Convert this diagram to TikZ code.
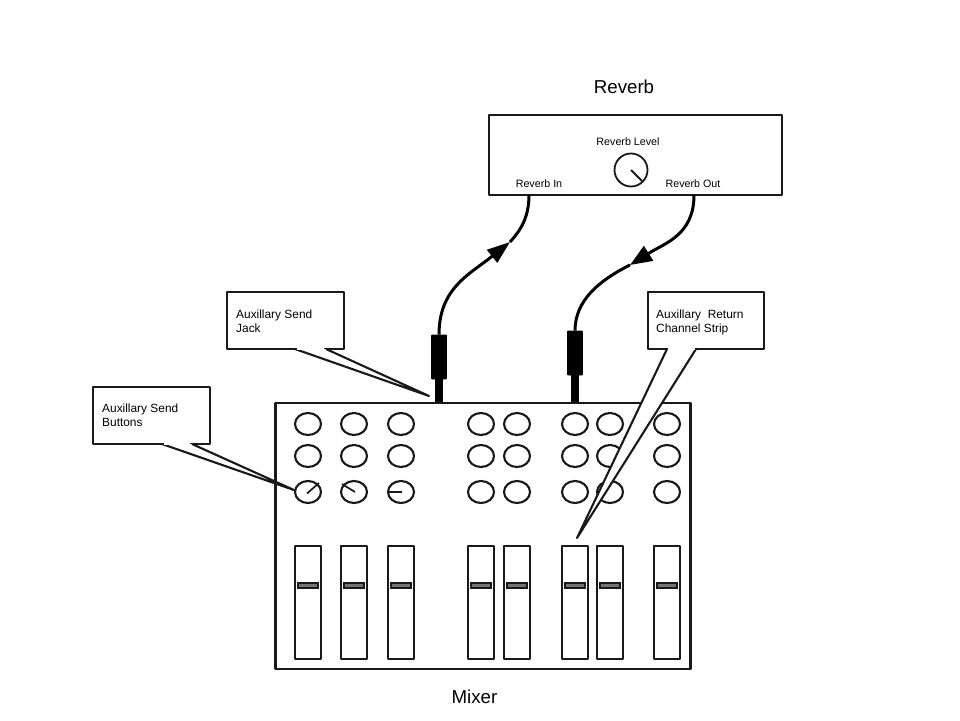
\documentclass[tikz,border=0pt]{standalone}
\usepackage{fontspec}
\setmainfont{Liberation Sans}
\usetikzlibrary{arrows.meta,shapes.geometric}
\tikzset{
  px/.style={x=1pt,y=-1pt},
  ln/.style={draw=black!90,line width=2.1pt,line join=round},
  box/.style={ln,fill=white,rectangle,minimum width=#1,inner sep=0pt},
  knob/.style={ln,fill=white,ellipse,minimum width=26pt,minimum height=22pt,inner sep=0pt},
  fader/.style={ln,fill=white,rectangle,minimum width=26pt,minimum height=113pt,inner sep=0pt},
  slider/.style={draw=black!90,line width=1.6pt,fill=black!55,rectangle,minimum width=20pt,minimum height=4.5pt,inner sep=0pt},
  plug/.style={fill=black,draw=black,line width=.8pt,rounded corners=.8pt,rectangle,minimum width=15pt,minimum height=44pt,inner sep=0pt},
  cable/.style={draw=black,line width=3pt},
  stem/.style={draw=black,line width=8pt},
  small/.style={font=\fontsize{11.9pt}{14pt}\selectfont,align=left,inner sep=0pt,anchor=north west},
  tiny/.style={font=\fontsize{10.7pt}{12pt}\selectfont,inner sep=0pt},
  big/.style={font=\fontsize{18.7pt}{20pt}\selectfont,inner sep=0pt},
  call/.style={ln,fill=white}
}
\begin{document}
\begin{tikzpicture}[px]
\useasboundingbox (0,0) rectangle (960,720);
% reverb unit
\node[box=293pt,minimum height=80pt] (reverb) at (635.5,155) {};
\node[big] (revtitle) at (624,86.5) {Reverb};
\node[tiny] (revlevel) at (628,141.5) {Reverb Level};
\node[tiny] (revin) at (539,183.5) {Reverb In};
\node[tiny] (revout) at (693,183.5) {Reverb Out};
\node[draw=black!90,line width=1.8pt,circle,minimum size=33pt,inner sep=0pt] (revknob) at (631,170) {};
\coordinate (revptr) at (642,181);
\draw[draw=black!90,line width=1.8pt] (631,170) -- (revptr);
% mixer
\node[box=415pt,minimum height=266pt] (mixer) at (483,536) {};
\node[big] (mixtitle) at (474.5,696.5) {Mixer};
% knobs
\foreach \c/\x in {a/308,b/354,c/401,d/481,e/517,f/575,g/610,h/667}
  \foreach \r/\y in {1/424,2/456,3/492}
    \node[knob] (k\c\r) at (\x,\y) {};
\draw[ln,line width=1.7pt] (ka3.center) ++(-1,1.5) -- ++(12,-10.5);
\draw[ln,line width=1.7pt] (kb3.center) ++(1,0) -- ++(-13,-8);
\draw[ln,line width=1.7pt] (kc3.center) ++(1,0) -- (kc3.west);
% faders
\foreach \c/\x in {a/308,b/354,c/401,d/481,e/517,f/575,g/610,h/667}{
  \node[fader] (f\c) at (\x,602.5) {};
  \node[slider] (s\c) at (\x,585.5) {};
}
% cables
\coordinate (inport) at (529,195);
\coordinate (outport) at (694,195);
\node[plug] (plugA) at (439,357) {};
\node[plug] (plugB) at (575,353) {};
\coordinate (jackA) at (439,402);
\coordinate (jackB) at (575,402);
\draw[stem] (plugA.south) -- (jackA);
\draw[stem] (plugB.south) -- (jackB);
\coordinate (headA) at (510,242);
\coordinate (headB) at (630,265);
\draw[cable] (inport) .. controls (529,218) and (520,231) .. (headA);
\draw[cable,-{Triangle[length=23pt,width=16pt]}] (plugA.north) .. controls (439,288) and (470,274) .. (headA);
\draw[cable] (plugB.north) .. controls (575,300) and (600,280) .. (headB);
\draw[cable,-{Triangle[length=22pt,width=17pt]}] (outport) .. controls (694,235) and (665,243) .. (headB);
% callouts
\node[box=117pt,minimum height=57pt] (c1) at (285.5,320.5) {};
\coordinate (t1) at (429,396);
\draw[call] (295,349) -- (t1) -- (326,349);
\draw[draw=white,line width=2.6pt] (297,349) -- (324,349);
\node[small,anchor=north west] (c1t) at (236,309.5) {Auxillary Send\\Jack};
\node[box=117pt,minimum height=57pt] (c2) at (151.5,415.5) {};
\coordinate (t2) at (294,490);
\draw[call] (162,444) -- (t2) -- (192,444);
\draw[draw=white,line width=2.6pt] (164,444) -- (190,444);
\node[small,anchor=north west] (c2t) at (102,404) {Auxillary Send\\Buttons};
\node[box=116pt,minimum height=57pt] (c3) at (706,320.5) {};
\coordinate (t3) at (577,538);
\draw[call] (667,349) -- (t3) -- (696,349);
\draw[draw=white,line width=2.6pt] (668,349) -- (695,349);
\node[small,anchor=north west] (c3t) at (656,309.5) {Auxillary\ \ Return\\Channel Strip};
\end{tikzpicture}
\end{document}
